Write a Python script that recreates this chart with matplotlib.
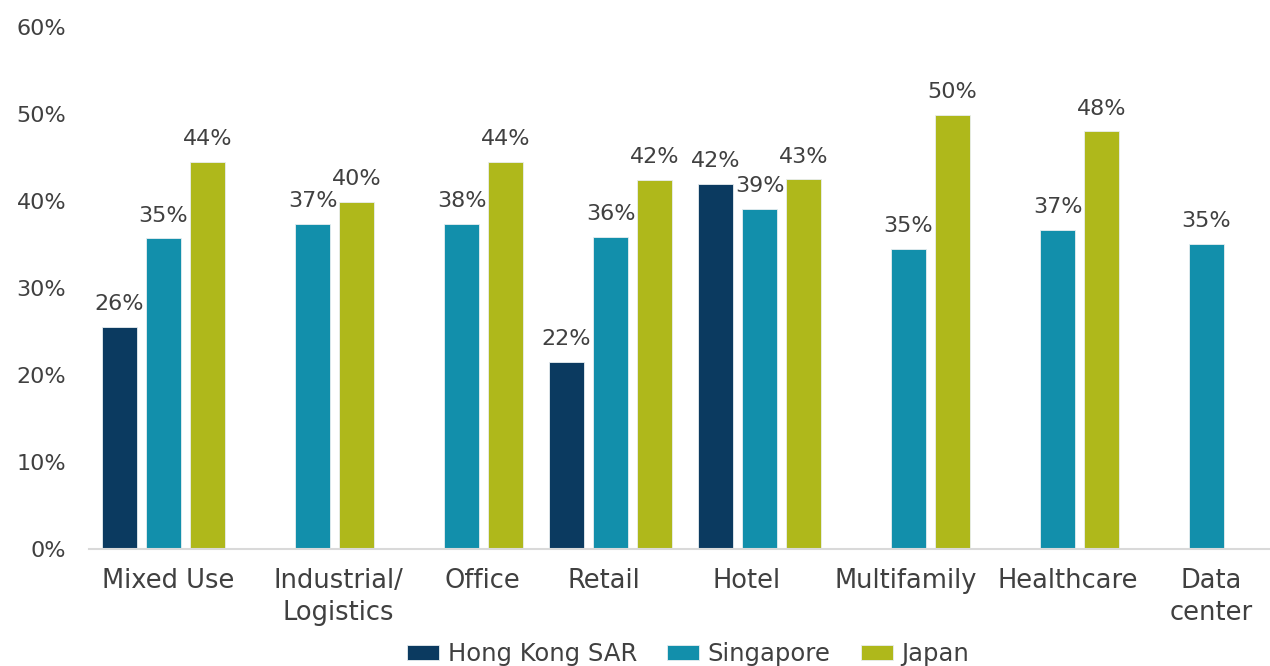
import numpy as np
import matplotlib.pyplot as plt

plt.rcParams['font.family'] = ['DejaVu Sans']

categories = ['Mixed Use', 'Industrial/\nLogistics', 'Office', 'Retail', 'Hotel',
              'Multifamily', 'Healthcare', 'Data\ncenter']
series = ['Hong Kong SAR', 'Singapore', 'Japan']

# bar heights (nan = no bar)
hong_kong = [25.5, np.nan, np.nan, 21.5, 42.0, np.nan, np.nan, np.nan]
singapore = [35.7, 37.4, 37.4, 35.9, 39.1, 34.5, 36.7, 35.1]
japan = [44.5, 39.9, 44.5, 42.4, 42.5, 49.9, 48.0, np.nan]

# labels as printed on the chart
hong_kong_labels = ['26%', '', '', '22%', '42%', '', '', '']
singapore_labels = ['35%', '37%', '38%', '36%', '39%', '35%', '37%', '35%']
japan_labels = ['44%', '40%', '44%', '42%', '43%', '50%', '48%', '']

colors = ['#0b3a60', '#128fab', '#afb81b']
text_color = '#404040'

# category labels in the original are not exactly centred under their groups
label_shift = [0.034, 0.174, 0.141, -0.047, -0.087, -0.02, 0.067, 0.034]

fig = plt.figure(figsize=(12.7, 6.66), dpi=100)
ax = fig.add_axes([89 / 1270, 1 - 549 / 666, 1192 / 1270, 522 / 666])

x = np.arange(len(categories))
step = 0.295
width = 0.235
all_vals = [hong_kong, singapore, japan]
all_labels = [hong_kong_labels, singapore_labels, japan_labels]
for i, (vals, labs) in enumerate(zip(all_vals, all_labels)):
    pos = x + (i - 1) * step
    ax.bar(pos, vals, width, color=colors[i], label=series[i],
           edgecolor='#e8eef0', linewidth=0.6)
    for p, v, lab in zip(pos, vals, labs):
        if lab and not np.isnan(v):
            ax.annotate(lab, (p, v), xytext=(0, 12), textcoords='offset points',
                        ha='center', va='baseline', fontsize=16, color=text_color)

ax.set_xlim(-0.5, 7.5)
ax.set_ylim(0, 60)
ax.set_yticks(np.arange(0, 61, 10))
ax.set_yticklabels([f'{t}%' for t in range(0, 61, 10)])
ax.set_xticks(x + np.array(label_shift))
ax.set_xticklabels(categories, linespacing=1.28)
ax.tick_params(axis='y', length=0, pad=16.5, labelsize=16, labelcolor=text_color)
ax.tick_params(axis='x', length=0, pad=14, labelsize=18.5, labelcolor=text_color)

for s in ['top', 'right', 'left']:
    ax.spines[s].set_visible(False)
ax.spines['bottom'].set_color('#d9d9d9')
ax.spines['bottom'].set_linewidth(1.5)

ax.legend(loc='center', bbox_to_anchor=(688 / 1270, 1 - 654 / 666),
          bbox_transform=fig.transFigure, ncol=3, frameon=False,
          fontsize=17.5, handlelength=1.32, handleheight=0.58,
          columnspacing=1.23, handletextpad=0.37, labelcolor=text_color,
          borderpad=0.1)

fig.savefig('out.png', dpi=100)
